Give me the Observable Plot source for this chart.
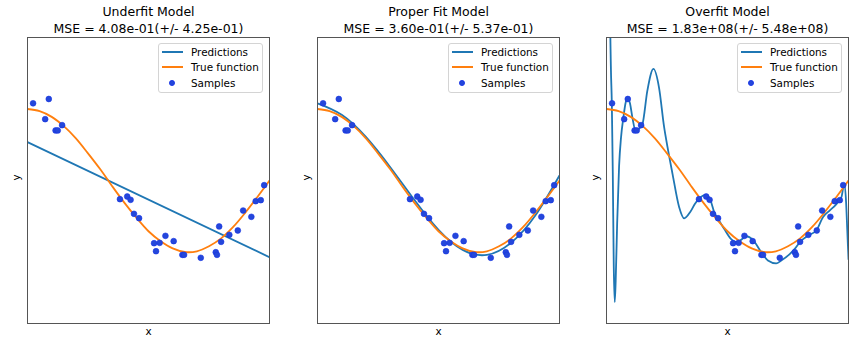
<!DOCTYPE html>
<html><head><meta charset="utf-8">
<script src="https://cdn.jsdelivr.net/npm/d3@7"></script>
<script src="https://cdn.jsdelivr.net/npm/@observablehq/plot@0.6"></script>
<style>
body{margin:0;background:#fff;font-family:"DejaVu Sans",sans-serif;}
#wrap{position:relative;width:852px;height:340px;overflow:hidden;background:#fff;}
.panel{position:absolute;top:0;}
.legend{position:absolute;top:42.7px;width:105px;height:50px;border:1px solid #d4d4d4;border-radius:3px;background:rgba(255,255,255,0.85);box-sizing:border-box;font-size:10.4px;color:#000;}
.legend .row{position:absolute;left:0;height:0;}
.legend .ln{position:absolute;left:3px;width:21px;height:2px;margin-top:-1px;}
.legend .dt{position:absolute;left:10.2px;width:5.8px;height:5.8px;margin-top:-2.9px;border-radius:50%;box-sizing:border-box;}
.legend .tx{position:absolute;left:32px;top:-7px;white-space:nowrap;line-height:14px;}
</style></head><body><div id="wrap"></div>
<script>
// ---- data ----
const sampleX = [0.023, 0.073, 0.088, 0.116, 0.125, 0.143, 0.382, 0.412, 0.426, 0.440, 0.461, 0.523, 0.531, 0.546, 0.570, 0.604, 0.640, 0.647, 0.716, 0.778, 0.783, 0.792, 0.800, 0.834, 0.869, 0.891, 0.925, 0.943, 0.964, 0.978];
const sampleY = [1.08, 0.858, 1.14, 0.70, 0.70, 0.774, -0.261, -0.224, -0.270, -0.466, -0.527, -0.877, -0.989, -0.872, -0.774, -0.848, -1.04, -1.04, -1.081, -1.003, -1.04, -0.643, -0.858, -0.76, -0.699, -0.42, -0.508, -0.289, -0.275, -0.065];

const trueX = [0, 0.05, 0.1, 0.15, 0.2, 0.25, 0.3, 0.35, 0.4, 0.45, 0.5, 0.55, 0.6, 0.65, 0.7, 0.75, 0.8, 0.85, 0.9, 0.95, 1.0];
const trueY = [1.0, 0.97, 0.89, 0.76, 0.59, 0.38, 0.16, -0.08, -0.31, -0.52, -0.71, -0.85, -0.95, -1.0, -0.99, -0.92, -0.81, -0.65, -0.45, -0.23, 0.0];

const underX = [0, 1];
const underY = [0.536, -1.073];

const properX = [0, 0.1, 0.2, 0.3, 0.4, 0.5, 0.6, 0.7, 0.8, 0.9, 1.0];
const properY = [1.08, 0.92, 0.61, 0.19, -0.27, -0.69, -0.97, -1.04, -0.87, -0.49, 0.07];

const overX = [0, 0.007, 0.013, 0.018, 0.022, 0.026, 0.030, 0.034, 0.038, 0.044, 0.052, 0.060, 0.069, 0.080, 0.088, 0.097, 0.107, 0.120, 0.133, 0.148, 0.169, 0.194, 0.217, 0.238, 0.252, 0.273, 0.300, 0.321, 0.346, 0.365, 0.383, 0.411, 0.429, 0.445, 0.463, 0.487, 0.515, 0.535, 0.556, 0.577, 0.605, 0.639, 0.667, 0.701, 0.722, 0.757, 0.777, 0.802, 0.833, 0.867, 0.895, 0.922, 0.950, 0.971, 0.982, 0.990, 0.995, 1.0];
const overY = [30, 8, 3.0, 1.6, 1.08, 0.1, -1.2, -1.70, -1.40, -0.6, 0.2, 0.6, 0.86, 1.10, 1.15, 1.08, 0.88, 0.70, 0.72, 0.78, 1.26, 1.56, 1.30, 0.75, 0.47, 0.09, -0.37, -0.53, -0.44, -0.33, -0.25, -0.20, -0.27, -0.44, -0.55, -0.68, -0.82, -0.86, -0.83, -0.78, -0.83, -1.0, -1.12, -1.16, -1.12, -1.03, -0.96, -0.85, -0.77, -0.70, -0.51, -0.42, -0.33, -0.23, -0.05, -0.3, -0.7, -1.1];

const titles = ["Underfit Model", "Proper Fit Model", "Overfit Model"];
const mseLabels = ["MSE = 4.08e-01(+/- 4.25e-01)", "MSE = 3.60e-01(+/- 5.37e-01)", "MSE = 1.83e+08(+/- 5.48e+08)"];
const legendLabels = ["Predictions", "True function", "Samples"];
const xLabel = "x", yLabel = "y";

// ---- build ----
const zip = (xs, ys) => xs.map((x, i) => ({x, y: ys[i]}));
const samples = zip(sampleX, sampleY);
const trueFn = zip(trueX, trueY);
const preds = [
  {data: zip(underX, underY), curve: "linear"},
  {data: zip(properX, properY), curve: "natural"},
  {data: zip(overX, overY), curve: "monotone-x"}
];
const panelLeft = [0, 290, 579];
const BLUE = "#1f77b4", ORANGE = "#ff7f0e";
const DOTFILL = "#2447da", DOTSTROKE = "#1533e6";
const wrap = document.getElementById("wrap");

preds.forEach((p, i) => {
  const div = document.createElement("div");
  div.className = "panel";
  div.style.left = panelLeft[i] + "px";
  const chart = Plot.plot({
    width: 273, height: 340,
    marginLeft: 27, marginRight: 4, marginTop: 37, marginBottom: 17,
    x: {domain: [0, 1], axis: null},
    y: {domain: [-2, 2], axis: null},
    style: {fontFamily: "DejaVu Sans", background: "transparent", color: "#000", overflow: "visible"},
    marks: [
      Plot.line(p.data, {x: "x", y: "y", stroke: BLUE, strokeWidth: 1.8, curve: p.curve, clip: true}),
      Plot.line(trueFn, {x: "x", y: "y", stroke: ORANGE, strokeWidth: 1.8, curve: "catmull-rom", clip: true}),
      Plot.dot(samples, {x: "x", y: "y", r: 2.9, fill: DOTFILL, stroke: DOTSTROKE, strokeWidth: 0.6}),
      Plot.frame({stroke: "#555", strokeWidth: 1}),
      Plot.text([titles[i]], {text: d => d, frameAnchor: "top", lineAnchor: "middle", dy: -26, fontSize: 12.5, fill: "#000"}),
      Plot.text([mseLabels[i]], {text: d => d, frameAnchor: "top", lineAnchor: "middle", dy: -9, fontSize: 12.5, fill: "#000"}),
      Plot.text([xLabel], {text: d => d, frameAnchor: "bottom", lineAnchor: "middle", dy: 8, fontSize: 10.4, fill: "#000"}),
      Plot.text([yLabel], {text: d => d, frameAnchor: "left", lineAnchor: "middle", dx: -11, rotate: -90, fontSize: 10.4, fill: "#000"})
    ]
  });
  div.appendChild(chart);
  wrap.appendChild(div);

  // legend
  const lg = document.createElement("div");
  lg.className = "legend";
  lg.style.left = (panelLeft[i] + 158) + "px";
  const rowsTop = [9, 24, 40.6];
  legendLabels.forEach((lab, k) => {
    const row = document.createElement("div");
    row.className = "row";
    row.style.top = (rowsTop[k] - 1) + "px";
    if (k < 2) {
      const ln = document.createElement("div");
      ln.className = "ln";
      ln.style.background = k === 0 ? BLUE : ORANGE;
      row.appendChild(ln);
    } else {
      const dt = document.createElement("div");
      dt.className = "dt";
      dt.style.background = DOTFILL;
      dt.style.border = "0.6px solid " + DOTSTROKE;
      row.appendChild(dt);
    }
    const tx = document.createElement("div");
    tx.className = "tx";
    tx.textContent = lab;
    row.appendChild(tx);
    lg.appendChild(row);
  });
  wrap.appendChild(lg);
});
</script></body></html>
